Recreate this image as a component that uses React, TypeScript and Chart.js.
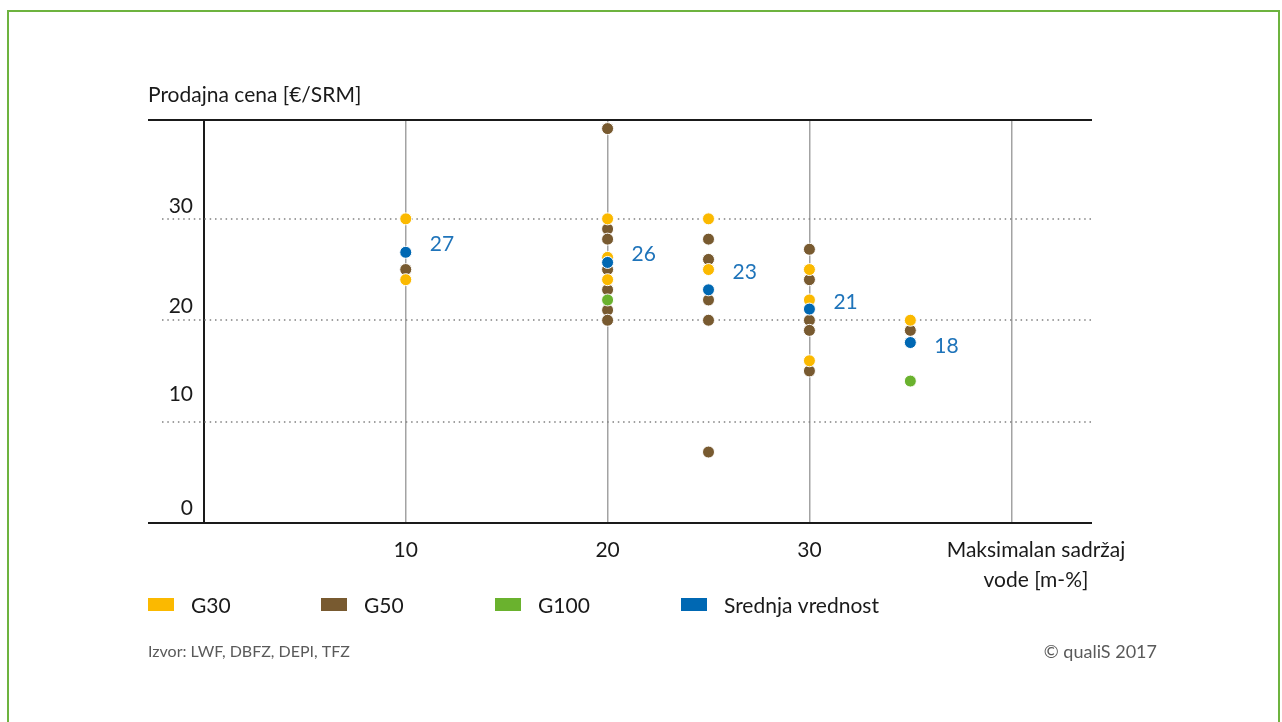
import React, { useEffect, useRef } from "react";
import { Chart, registerables } from "chart.js";

Chart.register(...registerables);

// ---------- data ----------
const seriesNames = ["G30", "G50", "G100", "Srednja vrednost"];

const g30X = [10, 10, 20, 20, 20, 25, 25, 30, 30, 30, 35];
const g30Y = [30, 24, 30, 26.2, 24, 30, 25, 25, 22, 16, 20];

const g50X = [10, 20, 20, 20, 20, 20, 20, 20, 25, 25, 25, 25, 25, 30, 30, 30, 30, 30, 35];
const g50Y = [25, 38.9, 29, 28, 25, 23, 21, 20, 28, 26, 22, 20, 7, 27, 24, 20, 19, 15, 19];

const g100X = [20, 35];
const g100Y = [22, 14];

const meanX = [10, 20, 25, 30, 35];
const meanY = [26.7, 25.7, 23, 21.1, 17.8];
const meanLabels = ["27", "26", "23", "21", "18"];

const xTickValues = [0, 10, 20, 30, 40];
const xTickLabels = ["", "10", "20", "30", ""];
const yTickValues = [0, 10, 20, 30];
const yTickLabels = ["0", "10", "20", "30"];

const yTitle = "Prodajna cena [€/SRM]";
const xTitle = ["Maksimalan sadržaj", "vode [m-%]"];
const sourceText = "Izvor: LWF, DBFZ, DEPI, TFZ";
const copyrightText = "© qualiS 2017";

// ---------- styles / layout ----------
const COLORS = ["#FBB900", "#785A30", "#6AB22E", "#0068B3"];
const LABEL_BLUE = "#1F74BA";
const FRAME = "#6DB33F";
const TEXT = "#1a1a1a";
const GRAY_TEXT = "#5a5a5a";
const FONT = "Lato, 'Noto Sans', sans-serif";

const meanLabelDy = [-8.5, -8, -18, -7, 4];
const yLabelDy = [-14.5, -27, -14, -13];
const legendX = [148, 321, 495, 681];

const toPoints = (xs: number[], ys: number[]) => xs.map((x, i) => ({ x, y: ys[i] }));

const decor = {
  id: "decor",
  beforeDraw(chart: any) {
    const ctx = chart.ctx;
    ctx.save();
    ctx.fillStyle = "#fff";
    ctx.fillRect(0, 0, chart.width, chart.height);
    ctx.strokeStyle = FRAME;
    ctx.lineWidth = 2;
    ctx.strokeRect(8, 11, 1271, 780);
    ctx.restore();
  },
  beforeDatasetsDraw(chart: any) {
    const { ctx, chartArea, scales } = chart;
    const y = scales.y;
    ctx.save();
    ctx.strokeStyle = "#808080";
    ctx.lineWidth = 1.5;
    ctx.setLineDash([1.5, 3.8]);
    yTickValues.forEach((v) => {
      if (v === 0) return;
      const py = Math.round(y.getPixelForValue(v));
      ctx.beginPath();
      ctx.moveTo(chartArea.left + 14, py);
      ctx.lineTo(chartArea.right, py);
      ctx.stroke();
    });
    ctx.setLineDash([]);
    ctx.strokeStyle = TEXT;
    ctx.lineWidth = 2;
    [chartArea.top, chartArea.bottom].forEach((py: number) => {
      ctx.beginPath();
      ctx.moveTo(chartArea.left, Math.round(py));
      ctx.lineTo(chartArea.right, Math.round(py));
      ctx.stroke();
    });
    ctx.restore();
  },
  afterDraw(chart: any) {
    const { ctx, scales } = chart;
    const x = scales.x;
    const y = scales.y;
    ctx.save();
    ctx.textBaseline = "middle";

    // y title
    ctx.fillStyle = TEXT;
    ctx.font = `21px ${FONT}`;
    ctx.textAlign = "left";
    ctx.fillText(yTitle, 148, 95);

    // y tick labels
    ctx.textAlign = "right";
    yTickValues.forEach((v, i) => {
      ctx.fillText(yTickLabels[i], 193, y.getPixelForValue(v) + yLabelDy[i]);
    });

    // x tick labels
    ctx.textAlign = "center";
    xTickValues.forEach((v, i) => {
      if (xTickLabels[i]) ctx.fillText(xTickLabels[i], x.getPixelForValue(v), 550);
    });

    // x title
    ctx.fillText(xTitle[0], 1036, 550);
    ctx.fillText(xTitle[1], 1036, 580);

    // mean labels
    ctx.fillStyle = LABEL_BLUE;
    ctx.font = `21px ${FONT}`;
    ctx.textAlign = "left";
    meanX.forEach((mx, i) => {
      ctx.fillText(meanLabels[i], x.getPixelForValue(mx) + 24, y.getPixelForValue(meanY[i]) + meanLabelDy[i]);
    });

    // legend
    ctx.font = `21px ${FONT}`;
    seriesNames.forEach((name, i) => {
      ctx.fillStyle = COLORS[i];
      ctx.fillRect(legendX[i], 598, 26, 13);
      ctx.fillStyle = TEXT;
      ctx.fillText(name, legendX[i] + 43, 606);
    });

    // footer
    ctx.fillStyle = GRAY_TEXT;
    ctx.font = `16px ${FONT}`;
    ctx.textAlign = "left";
    ctx.fillText(sourceText, 148, 652);
    ctx.font = `18px ${FONT}`;
    ctx.textAlign = "right";
    ctx.fillText(copyrightText, 1157, 652);

    ctx.restore();
  },
};

export default function App() {
  const ref = useRef<HTMLCanvasElement | null>(null);

  useEffect(() => {
    if (!ref.current) return;
    const mk = (label: string, data: any[], color: string, order: number) => ({
      label,
      data,
      backgroundColor: color,
      borderColor: "#ffffff",
      borderWidth: 1,
      pointRadius: 6,
      pointHoverRadius: 6,
      order,
    });
    const chart = new Chart(ref.current, {
      type: "scatter",
      data: {
        datasets: [
          mk(seriesNames[3], toPoints(meanX, meanY), COLORS[3], 0),
          mk(seriesNames[2], toPoints(g100X, g100Y), COLORS[2], 1),
          mk(seriesNames[0], toPoints(g30X, g30Y), COLORS[0], 2),
          mk(seriesNames[1], toPoints(g50X, g50Y), COLORS[1], 3),
        ],
      },
      options: {
        responsive: false,
        maintainAspectRatio: false,
        animation: false,
        events: [],
        layout: { padding: { left: 148, right: 190, top: 120, bottom: 199 } },
        plugins: { legend: { display: false }, tooltip: { enabled: false } },
        scales: {
          x: {
            type: "linear",
            min: -2.77,
            max: 44,
            afterBuildTicks: (scale: any) => {
              scale.ticks = xTickValues.map((v) => ({ value: v }));
            },
            ticks: { display: false },
            grid: {
              drawTicks: false,
              color: (c: any) => (c.tick && c.tick.value === 0 ? TEXT : "#a3a3a3"),
              lineWidth: (c: any) => (c.tick && c.tick.value === 0 ? 2 : 1.5),
            },
            border: { display: false },
          },
          y: {
            type: "linear",
            display: false,
            min: 0,
            max: 39.75,
          },
        },
      },
      plugins: [decor],
    } as any);
    return () => chart.destroy();
  }, []);

  return (
    <div style={{ position: "fixed", left: 0, top: 0, width: 1282, height: 722, overflow: "hidden", background: "#fff" }}>
      <canvas ref={ref} width={1282} height={722} style={{ display: "block", width: 1282, height: 722 }} />
    </div>
  );
}
